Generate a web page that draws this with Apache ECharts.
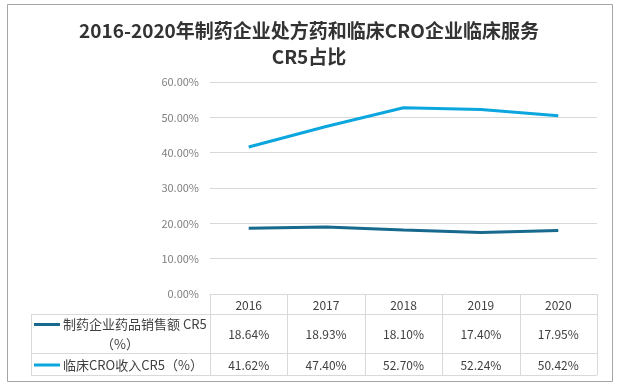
<!DOCTYPE html>
<html><head><meta charset="utf-8">
<script src="https://cdn.jsdelivr.net/npm/echarts@6/dist/echarts.min.js"></script>
<style>html,body{margin:0;padding:0;background:#fff}#c{width:618px;height:385px}</style>
</head><body><div id="c"></div>
<script>
var titleText = '2016-2020年制药企业处方药和临床CRO企业临床服务\nCR5占比';
var categories = ['2016','2017','2018','2019','2020'];
var seriesNames = ['制药企业药品销售额 CR5\n（%）', '临床CRO收入CR5（%）'];
var pharmaValues = [18.64, 18.93, 18.10, 17.40, 17.95];
var croValues = [41.62, 47.40, 52.70, 52.24, 50.42];
var colors = ['#17698E', '#0CA6DF'];

var FONT = '"Noto Sans CJK SC", "Open Sans", sans-serif';
var gridL = 210, gridR = 597, gridT = 82, gridB = 294;
var tableLeft = 31, rowLines = [294, 314, 353, 375];

var chart = echarts.init(document.getElementById('c'));
var option = {
  animation: false,
  title: {
    text: titleText, left: 'center', top: 13,
    textStyle: {fontFamily: FONT, fontSize: 19, fontWeight: 'bold', color: '#333', lineHeight: 26}
  },
  grid: {left: gridL, right: 618 - gridR, top: gridT, bottom: 385 - gridB, containLabel: false},
  xAxis: {
    type: 'category', data: categories, boundaryGap: true,
    axisLine: {lineStyle: {color: '#d9d9d9'}},
    axisTick: {show: false}, axisLabel: {show: false}
  },
  yAxis: {
    type: 'value', min: 0, max: 60, interval: 10,
    axisLine: {show: false}, axisTick: {show: false},
    axisLabel: {formatter: function(v){return v.toFixed(2) + '%';}, color: '#7f7f7f', fontSize: 11, fontFamily: FONT, margin: 11},
    splitLine: {lineStyle: {color: '#d9d9d9'}}
  },
  series: [
    {name: seriesNames[0], type: 'line', data: pharmaValues, showSymbol: false, lineStyle: {width: 3, color: colors[0]}, itemStyle:{color: colors[0]}},
    {name: seriesNames[1], type: 'line', data: croValues, showSymbol: false, lineStyle: {width: 3, color: colors[1]}, itemStyle:{color: colors[1]}}
  ]
};
chart.setOption(option);

// Build the data table from the arrays, positioned with the category axis scale
var g = [];
var lineStyle = {stroke: '#d9d9d9', lineWidth: 1};
var bandW = chart.convertToPixel({xAxisIndex: 0}, categories[1]) - chart.convertToPixel({xAxisIndex: 0}, categories[0]);
var centers = categories.map(function(c){ return chart.convertToPixel({xAxisIndex: 0}, c); });
// outer border
g.push({type: 'rect', shape: {x: 7.5, y: 4.5, width: 605, height: 377}, style: {fill: null, stroke: '#a6a6a6', lineWidth: 1}, silent: true});
// horizontal lines
rowLines.forEach(function(y, i){
  var x1 = i === 0 ? gridL : tableLeft;
  g.push({type: 'line', shape: {x1: x1, y1: y + 0.5, x2: gridR, y2: y + 0.5}, style: lineStyle, silent: true});
});
// vertical lines
g.push({type: 'line', shape: {x1: tableLeft + 0.5, y1: rowLines[1], x2: tableLeft + 0.5, y2: rowLines[3]}, style: lineStyle});
for (var i = 0; i <= categories.length; i++) {
  var x = Math.round(centers[0] - bandW / 2 + i * bandW) + 0.5;
  g.push({type: 'line', shape: {x1: x, y1: rowLines[0], x2: x, y2: rowLines[3]}, style: lineStyle});
}
// header
categories.forEach(function(c, i){
  g.push({type: 'text', x: centers[i], y: (rowLines[0] + rowLines[1]) / 2 + 1, style: {text: c, fill: '#404040', font: '12px ' + FONT, align: 'center', verticalAlign: 'middle'}});
});
var dataRows = [pharmaValues, croValues];
dataRows.forEach(function(row, r){
  var cy = (rowLines[r + 1] + rowLines[r + 2]) / 2 + 1;
  row.forEach(function(v, i){
    g.push({type: 'text', x: centers[i], y: cy, style: {text: v.toFixed(2) + '%', fill: '#404040', font: '12px ' + FONT, align: 'center', verticalAlign: 'middle'}});
  });
  // legend symbol
  var symY = r === 0 ? cy - 10 : cy;
  g.push({type: 'line', shape: {x1: 34, y1: symY, x2: 60, y2: symY}, style: {stroke: colors[r], lineWidth: 3}});
  var parts = seriesNames[r].split('\n');
  if (parts.length > 1) {
    g.push({type: 'text', x: 63, y: symY, style: {text: parts[0], fill: '#404040', font: '13px ' + FONT, align: 'left', verticalAlign: 'middle'}});
    g.push({type: 'text', x: 120, y: symY + 20, style: {text: parts[1], fill: '#404040', font: '13px ' + FONT, align: 'center', verticalAlign: 'middle'}});
  } else {
    g.push({type: 'text', x: 63, y: symY, style: {text: parts[0], fill: '#404040', font: '13px ' + FONT, align: 'left', verticalAlign: 'middle'}});
  }
});
chart.setOption({graphic: {elements: g}});
</script>
</body></html>
